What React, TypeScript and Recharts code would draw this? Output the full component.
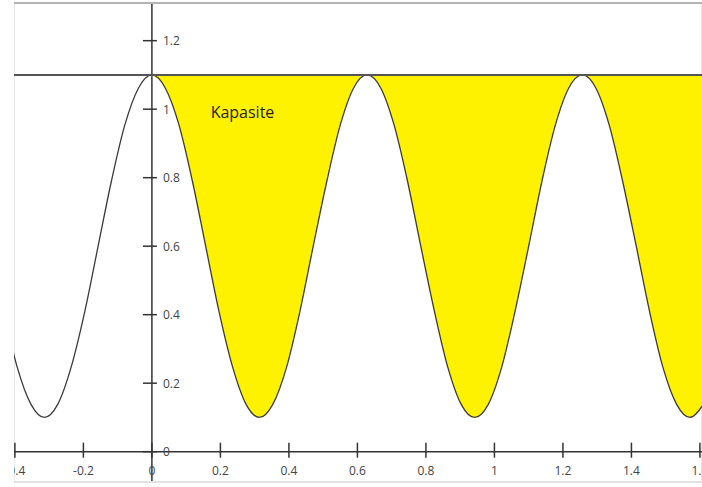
import React from "react";
import {
  ComposedChart,
  Line,
  Area,
  XAxis,
  YAxis,
  CartesianGrid,
  ReferenceLine,
  ReferenceDot,
} from "recharts";

// x positions
const xValues = [
  -0.432, -0.393, -0.353, -0.314, -0.275, -0.236, -0.196, -0.157, -0.118, -0.079, -0.039,
  0, 0.039, 0.079, 0.118, 0.157, 0.196, 0.236, 0.275, 0.314, 0.353, 0.393, 0.432, 0.471,
  0.511, 0.55, 0.589, 0.628, 0.668, 0.707, 0.746, 0.785, 0.825, 0.864, 0.903, 0.942, 0.982,
  1.021, 1.06, 1.1, 1.139, 1.178, 1.217, 1.257, 1.296, 1.335, 1.374, 1.414, 1.453, 1.492,
  1.532, 1.571, 1.61,
];
// curve values at those x positions
const yValues = [
  0.409, 0.246, 0.138, 0.1, 0.138, 0.246, 0.409, 0.6, 0.791, 0.954, 1.062,
  1.1, 1.062, 0.954, 0.791, 0.6, 0.409, 0.246, 0.138, 0.1, 0.138, 0.246, 0.409, 0.6,
  0.791, 0.954, 1.062, 1.1, 1.062, 0.954, 0.791, 0.6, 0.409, 0.246, 0.138, 0.1, 0.138,
  0.246, 0.409, 0.6, 0.791, 0.954, 1.062, 1.1, 1.062, 0.954, 0.791, 0.6, 0.409, 0.246,
  0.138, 0.1, 0.138,
];
const capacity = 1.1;
const fillStartX = 0;
const xTicks = [-0.4, -0.2, 0, 0.2, 0.4, 0.6, 0.8, 1, 1.2, 1.4, 1.6];
const yTicks = [0, 0.2, 0.4, 0.6, 0.8, 1, 1.2];
const labelText = "Kapasite";
const labelPos = { x: 0.2645, y: 0.992 };

const data = xValues.map((x, i) => ({
  x,
  y: yValues[i],
  fy: x >= fillStartX ? yValues[i] : null,
}));

const FONT = "'Open Sans', 'Noto Sans', sans-serif";
const AXIS = "#333";

const XTickShape = (label: string) => (p: any) => (
  <g>
    <line x1={p.cx} x2={p.cx} y1={p.cy - 9} y2={p.cy + 6} stroke={AXIS} strokeWidth={1.5} />
    <text
      x={p.cx}
      y={p.cy + 19}
      textAnchor="middle"
      dominantBaseline="central"
      fontFamily={FONT}
      fontSize={12}
      fill="#444"
    >
      {label}
    </text>
  </g>
);

const YTickShape = (label: string) => (p: any) => (
  <g>
    <line x1={p.cx - 9} x2={p.cx + 5} y1={p.cy} y2={p.cy} stroke={AXIS} strokeWidth={1.5} />
    <text
      x={p.cx + 11}
      y={p.cy}
      textAnchor="start"
      dominantBaseline="central"
      fontFamily={FONT}
      fontSize={12}
      fill="#444"
    >
      {label}
    </text>
  </g>
);

const LabelShape = (p: any) => (
  <text
    x={p.cx}
    y={p.cy}
    textAnchor="middle"
    dominantBaseline="central"
    fontFamily={FONT}
    fontSize={16}
    fill="#222"
  >
    {labelText}
  </text>
);

export default function App() {
  return (
    <div
      style={{
        position: "absolute",
        left: 0,
        top: 0,
        width: 702,
        height: 487,
        background: "#fff",
        overflow: "hidden",
      }}
    >
      <ComposedChart
        width={702}
        height={487}
        data={data}
        margin={{ top: 3, right: 0, bottom: 5, left: 14 }}
      >
        <CartesianGrid stroke="#e6e6e6" strokeWidth={2} />
        <XAxis
          dataKey="x"
          type="number"
          domain={[-0.4026, 1.606]}
          allowDataOverflow
          ticks={xTicks}
          tick={false}
          axisLine={false}
          tickLine={false}
          height={0}
        />
        <YAxis
          type="number"
          domain={[-0.0885, 1.31]}
          allowDataOverflow
          ticks={yTicks}
          tick={false}
          axisLine={false}
          tickLine={false}
          width={0}
        />
        <Area
          dataKey="fy"
          type="monotone"
          baseValue={capacity}
          fill="#fff200"
          fillOpacity={1}
          stroke="none"
          isAnimationActive={false}
          dot={false}
          activeDot={false}
        />
        <Line
          dataKey="y"
          type="monotone"
          stroke="#3a3a3a"
          strokeWidth={1.3}
          dot={false}
          activeDot={false}
          isAnimationActive={false}
        />
        <ReferenceLine x={0} stroke={AXIS} strokeWidth={1.5} />
        <ReferenceLine y={0} stroke={AXIS} strokeWidth={1.5} />
        <ReferenceLine y={capacity} stroke="#555" strokeWidth={2} />
        {xTicks.map((t) => (
          <ReferenceDot key={"xt" + t} x={t} y={0} r={0} shape={XTickShape(String(t))} />
        ))}
        {yTicks.map((t) => (
          <ReferenceDot key={"yt" + t} x={0} y={t} r={0} shape={YTickShape(String(t))} />
        ))}
        <ReferenceDot x={labelPos.x} y={labelPos.y} r={0} shape={LabelShape} />
      </ComposedChart>
      <div
        style={{
          position: "absolute",
          left: 0,
          top: 0,
          width: 14,
          height: 487,
          background: "#fff",
        }}
      />
      <div
        style={{
          position: "absolute",
          left: 14,
          top: 2,
          width: 688,
          height: 2,
          background: "#b4b4b4",
        }}
      />
      <div
        style={{
          position: "absolute",
          left: 14,
          top: 481,
          width: 688,
          height: 2,
          background: "#e2e2e2",
        }}
      />
    </div>
  );
}
